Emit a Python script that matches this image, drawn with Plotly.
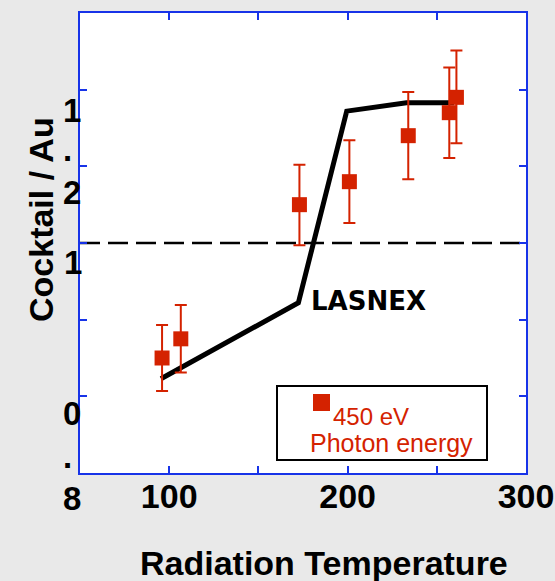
import plotly.graph_objects as go

# ---- data ----
temps = [96, 106.5, 173, 201, 234, 257, 261]
cocktail = [0.850, 0.875, 1.050, 1.080, 1.140, 1.170, 1.190]
err_plus = [0.043, 0.044, 0.052, 0.054, 0.057, 0.059, 0.061]
err_minus = [0.043, 0.044, 0.053, 0.054, 0.057, 0.059, 0.060]

lasnex_t = [95.4, 172.4, 199.5, 233, 259.6]
lasnex_y = [0.823, 0.922, 1.172, 1.183, 1.183]

ref_level = 1.0
x_range = [50, 300]
y_range = [0.7, 1.3]
x_tickvals = [50, 100, 150, 200, 250, 300]
x_ticktext = ["", "100", "", "200", "", "300"]
y_tickvals = [0.7, 0.8, 0.9, 1.0, 1.1, 1.2, 1.3]

RED = "#d42200"
BLUE = "#1733e8"
BG = "#e9e9e9"

W, H = 555, 581
L, R, T, B = 80, 29, 13, 108
pw, ph = W - L - R, H - T - B


def px(xp):
    return (xp - L) / pw


def py(yp):
    return (H - B - yp) / ph


fig = go.Figure()

fig.add_trace(go.Scatter(
    x=x_range, y=[ref_level, ref_level], mode="lines",
    line=dict(color="black", width=2.5, dash="20px,8px"),
    hoverinfo="skip", showlegend=False))

fig.add_trace(go.Scatter(
    x=lasnex_t, y=lasnex_y, mode="lines", name="LASNEX",
    line=dict(color="black", width=5), showlegend=False))

fig.add_trace(go.Scatter(
    x=temps, y=cocktail, mode="markers", name="450 eV Photon energy",
    marker=dict(symbol="square", size=15, color=RED),
    error_y=dict(type="data", symmetric=False, array=err_plus,
                 arrayminus=err_minus, color=RED, thickness=2, width=6),
    showlegend=False))

axis_common = dict(showline=True, linecolor=BLUE, linewidth=2, mirror="ticks",
                   ticks="inside", ticklen=7, tickcolor=BLUE, tickwidth=2,
                   showgrid=False, zeroline=False, automargin=False)

fig.update_xaxes(range=x_range, tickvals=x_tickvals, ticktext=x_ticktext,
                 tickfont=dict(family="Liberation Sans", size=34, color="black",
                               weight="bold"),
                 ticklabelstandoff=-8, **axis_common)
fig.update_yaxes(range=y_range, tickvals=y_tickvals, showticklabels=False,
                 **axis_common)

annotations = []
bold = dict(family="Liberation Sans", size=34, color="black", weight="bold")

# garbled y tick labels as in the reference
ychars = [("1", 72, 110), (".", 67, 150), ("2", 72, 192), ("1", 73, 262),
          ("0", 72, 413), (".", 67, 456), ("8", 72, 498)]
for ch, xx, yy in ychars:
    annotations.append(dict(text=ch, x=px(xx), y=py(yy), xref="paper", yref="paper",
                            xanchor="center", yanchor="middle", showarrow=False,
                            font=dict(family="Liberation Sans", size=33, color="black",
                                      weight="bold")))

annotations.append(dict(text="Radiation Temperature", x=px(324), y=py(563),
                        xref="paper", yref="paper", xanchor="center", yanchor="middle",
                        showarrow=False, font=bold))
annotations.append(dict(text="Cocktail / Au", x=px(41), y=py(220), textangle=-90,
                        xref="paper", yref="paper", xanchor="center", yanchor="middle",
                        showarrow=False, font=bold))
annotations.append(dict(text="LASNEX", x=px(309), y=py(301), xref="paper", yref="paper",
                        xanchor="left", yanchor="middle", showarrow=False,
                        font=dict(family="DejaVu Sans", size=26, color="black",
                                  weight="bold")))
annotations.append(dict(text="450 eV", x=px(331), y=py(416), xref="paper", yref="paper",
                        xanchor="left", yanchor="middle", showarrow=False,
                        font=dict(family="Liberation Sans", size=24, color=RED)))
annotations.append(dict(text="Photon energy", x=px(308), y=py(443), xref="paper",
                        yref="paper", xanchor="left", yanchor="middle", showarrow=False,
                        font=dict(family="Liberation Sans", size=25, color=RED)))

shapes = [
    dict(type="rect", xref="paper", yref="paper", x0=px(277), x1=px(487),
         y0=py(460), y1=py(386), line=dict(color="black", width=2),
         fillcolor="white"),
    dict(type="rect", xref="paper", yref="paper", x0=px(313), x1=px(330),
         y0=py(411), y1=py(394), line=dict(width=0), fillcolor=RED),
]

fig.update_layout(width=W, height=H, margin=dict(l=L, r=R, t=T, b=B, autoexpand=False),
                  paper_bgcolor=BG, plot_bgcolor="white",
                  annotations=annotations, shapes=shapes, showlegend=False)

fig.write_html("out.html", config={"displayModeBar": False},
               post_script="document.body.style.margin='0';"
                           "document.body.style.background='%s';"
                           "document.body.style.overflow='hidden';" % BG)
